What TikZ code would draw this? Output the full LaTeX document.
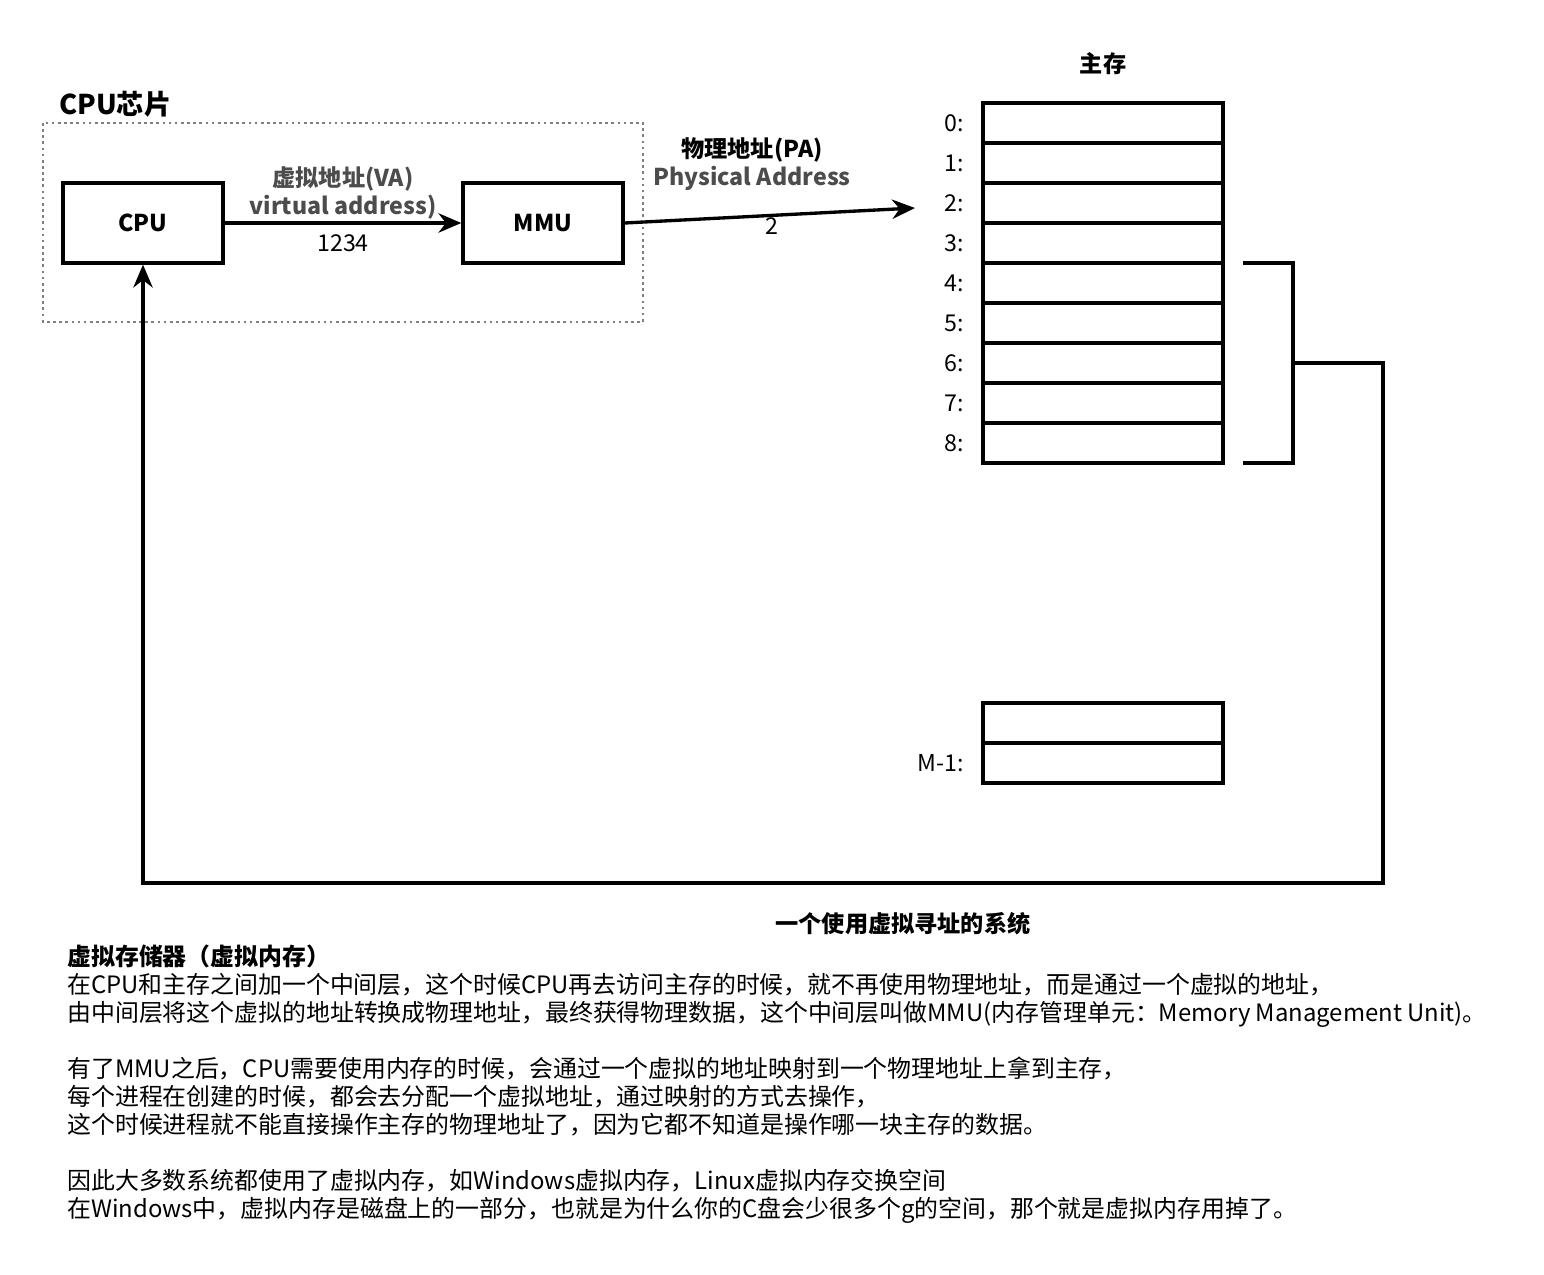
\documentclass[tikz,border=0pt]{standalone}
\usepackage{fontspec}
\setmainfont{Noto Sans CJK SC}
\usetikzlibrary{arrows.meta}
\begin{document}
\begin{tikzpicture}[x=0.02cm,y=-0.02cm,
 box/.style={draw,line width=1.9pt,minimum width=3.2cm,minimum height=1.6cm,font=\bfseries\fontsize{13.2}{15}\selectfont},
 cell/.style={draw,line width=1.9pt,minimum width=4.8cm,minimum height=0.8cm,inner sep=0},
 lab/.style={font=\fontsize{13.2}{15}\selectfont,anchor=east},
 ln/.style={line width=1.9pt},
 arr/.style={line width=1.9pt,-{Stealth[length=13pt,width=11pt]}},
 txt/.style={font=\fontsize{13.6}{15.9}\selectfont,anchor=north west,align=left,inner sep=0}]
\useasboundingbox (0,0) rectangle (1544,1274);
\draw[gray,dotted,line width=1.5pt] (43,123) rectangle (643,322);
\node[anchor=west,font=\bfseries\fontsize{15.5}{18}\selectfont] (chip) at (53,104) {CPU芯片};
\node[box] (cpu) at (143,223) {CPU};
\node[box] (mmu) at (543,223) {MMU};
\draw[arr] (cpu) -- (mmu);
\node[font=\bfseries\fontsize{13.2}{15}\selectfont,text=black!70] (va1) at (343,179) {虚拟地址(VA)};
\node[font=\bfseries\fontsize{13.2}{15}\selectfont,text=black!70] (va2) at (343,207) {virtual address)};
\node[font=\fontsize{13.2}{15}\selectfont] (n1234) at (343,243) {1234};
\coordinate (pa) at (915,208);
\draw[arr] (mmu.east) -- (pa);
\node[font=\fontsize{13.2}{15}\selectfont] (two) at (772,226) {2};
\node[font=\bfseries\fontsize{13.2}{15}\selectfont] (pa1) at (752,150) {物理地址(PA)};
\node[font=\bfseries\fontsize{13.2}{15}\selectfont,text=black!70] (pa2) at (752,178) {Physical Address};
\node[font=\bfseries\fontsize{13.2}{15}\selectfont] (mem) at (1103,64) {主存};
\foreach \i in {0,...,8}{
 \node[cell] (c\i) at (1103,123+40*\i) {};
 \node[lab] (l\i) at (970,123+40*\i) {\i:};
}
\node[cell] (ca) at (1103,723) {};
\node[cell] (cb) at (1103,763) {};
\node[lab] (lm) at (970,763) {M-1:};
\draw[ln] (1243,263) -- (1293,263) -- (1293,463) -- (1243,463);
\coordinate (br) at (1293,363);
\draw[arr] (br) -- (1383,363) -- (1383,883) -- (143,883) -- (cpu.south);
\node[font=\bfseries\fontsize{13.2}{15}\selectfont] (cap) at (903,924) {一个使用虚拟寻址的系统};
\node[txt] (t) at (67,945) {\textbf{虚拟存储器（虚拟内存）}\\
在CPU和主存之间加一个中间层，这个时候CPU再去访问主存的时候，就不再使用物理地址，而是通过一个虚拟的地址，\\
由中间层将这个虚拟的地址转换成物理地址，最终获得物理数据，这个中间层叫做MMU(内存管理单元：Memory Management Unit)。\\[15.9pt]
有了MMU之后，CPU需要使用内存的时候，会通过一个虚拟的地址映射到一个物理地址上拿到主存，\\
每个进程在创建的时候，都会去分配一个虚拟地址，通过映射的方式去操作，\\
这个时候进程就不能直接操作主存的物理地址了，因为它都不知道是操作哪一块主存的数据。\\[15.9pt]
因此大多数系统都使用了虚拟内存，如Windows虚拟内存，Linux虚拟内存交换空间\\
在Windows中，虚拟内存是磁盘上的一部分，也就是为什么你的C盘会少很多个g的空间，那个就是虚拟内存用掉了。};
\end{tikzpicture}
\end{document}
